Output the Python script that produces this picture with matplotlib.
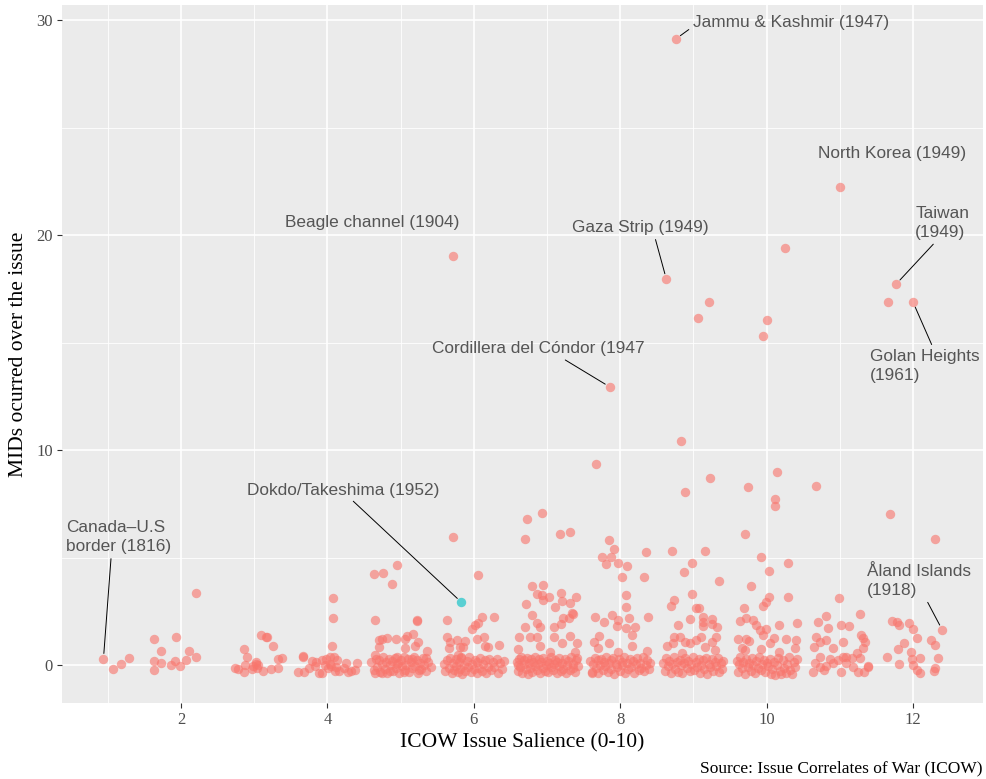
import matplotlib.pyplot as plt
import numpy as np

# territorial claims: (salience, number of MIDs), grouped by salience level
sal_1 = [(1.07, -0.19), (1.18, 0.05), (1.29, 0.33)]
sal_2 = [(1.63, 1.22), (1.93, 1.30), (1.72, 0.65), (2.11, 0.65), (1.63, 0.19), (1.73, 0.11),
         (1.92, 0.19), (2.07, 0.22), (2.20, 0.37), (1.86, 0.00), (1.99, -0.03), (1.63, -0.23),
         (2.20, 3.33)]
sal_3 = [(3.09, 1.38), (3.17, 1.29), (3.16, 1.30), (3.26, 0.88), (2.86, 0.74), (2.90, 0.39),
         (3.32, 0.29), (3.38, 0.33), (3.03, 0.14), (3.05, 0.00), (2.88, 0.02), (2.74, -0.16),
         (2.78, -0.17), (2.86, -0.33), (2.97, -0.17), (3.04, -0.14), (3.12, -0.29), (3.23, -0.20),
         (3.33, -0.16), (2.99, -0.05), (3.02, 0.06)]
sal_4 = [(4.08, 3.12), (4.07, 2.20), (4.06, 0.88), (3.66, 0.39), (3.67, 0.40), (3.79, 0.20),
         (3.85, 0.14), (3.92, 0.23), (3.98, 0.26), (4.04, 0.36), (4.09, 0.39), (4.13, 0.23),
         (4.25, 0.08), (4.40, 0.11), (3.60, -0.31), (3.68, -0.34), (3.75, -0.16), (3.83, -0.05),
         (3.88, -0.36), (3.93, -0.36), (4.01, -0.16), (4.05, -0.05), (4.10, -0.28), (4.16, -0.26),
         (4.22, -0.16), (4.28, -0.33), (4.32, -0.26), (4.38, -0.23), (3.97, 0.00), (4.03, 0.05),
         (4.12, -0.10)]
sal_5 = [(4.64, 4.22), (4.76, 4.29), (4.95, 4.65), (4.88, 3.75), (4.65, 2.08), (5.22, 2.08),
         (5.23, 2.05), (4.71, 1.16), (4.75, 1.19), (4.82, 1.27), (4.94, 1.22), (5.09, 1.35),
         (5.17, 1.43), (5.06, 1.21), (4.70, 0.85), (5.06, 0.78), (5.20, 0.88), (5.24, 1.09),
         (5.36, 0.67), (4.65, 0.47), (4.95, 0.36),
         (4.60, 0.12), (4.63, -0.25), (4.66, 0.30), (4.68, -0.08), (4.70, 0.21), (4.72, -0.33),
         (4.74, 0.05), (4.76, 0.36), (4.78, -0.18), (4.80, 0.14), (4.82, -0.38), (4.84, 0.27),
         (4.86, -0.02), (4.88, 0.18), (4.90, -0.28), (4.92, 0.33), (4.94, -0.12), (4.96, 0.08),
         (4.98, -0.35), (5.00, 0.24), (5.02, -0.06), (5.04, 0.38), (5.06, -0.22), (5.08, 0.02),
         (5.10, 0.29), (5.12, -0.31), (5.14, 0.16), (5.16, -0.14), (5.18, 0.35), (5.20, -0.04),
         (5.22, 0.22), (5.24, -0.37), (5.26, 0.10), (5.28, -0.20), (5.30, 0.31), (5.32, 0.00),
         (5.35, -0.26), (5.38, 0.15), (5.41, -0.10), (4.65, -0.38), (4.75, -0.36), (4.85, -0.30),
         (4.95, 0.04), (5.05, -0.34), (5.15, 0.28), (5.25, -0.24), (5.34, 0.34)]
sal_6 = [(5.72, 5.95), (6.06, 4.19), (5.63, 2.08), (5.64, 1.30), (5.77, 1.16), (5.88, 1.13),
         (5.67, 1.08), (5.66, 0.78), (5.81, 0.82), (5.85, 0.82), (5.97, 1.66), (6.02, 1.86),
         (6.06, 1.97), (6.11, 2.22), (6.28, 2.22), (6.04, 1.22), (6.14, 1.32), (6.35, 0.91),
         (6.15, 0.88), (6.20, 0.82), (5.83, 0.36), (5.78, 0.48),
         (5.59, 0.05), (5.61, -0.30), (5.63, 0.22), (5.66, -0.12), (5.68, 0.34), (5.70, -0.38),
         (5.71, 0.10), (5.73, -0.22), (5.75, 0.28), (5.76, -0.05), (5.78, -0.34), (5.80, 0.15),
         (5.81, -0.18), (5.83, 0.31), (5.84, -0.40), (5.86, 0.02), (5.88, -0.27), (5.90, 0.19),
         (5.92, -0.09), (5.94, 0.36), (5.96, -0.33), (5.98, 0.07), (6.00, -0.20), (6.02, 0.25),
         (6.04, -0.38), (6.05, 0.12), (6.07, -0.15), (6.09, 0.33), (6.11, -0.29), (6.13, 0.04),
         (6.15, 0.21), (6.17, -0.36), (6.19, -0.07), (6.21, 0.30), (6.23, -0.24), (6.26, 0.14),
         (6.28, -0.11), (6.31, 0.26), (6.33, -0.35), (6.36, 0.08), (6.39, -0.18), (6.41, 0.19)]
sal_7 = [(6.72, 6.81), (6.93, 7.05), (6.70, 5.85), (7.18, 6.11), (7.32, 6.20),
         (6.79, 3.67), (6.95, 3.72), (6.86, 3.30), (6.93, 3.26), (6.94, 3.02), (7.03, 3.15),
         (7.19, 3.36), (7.21, 2.99), (7.11, 2.71), (7.40, 3.18), (7.32, 2.90), (6.71, 2.84),
         (6.79, 2.34), (7.35, 2.37), (7.22, 2.17), (6.86, 1.97), (6.90, 1.75), (6.70, 1.75),
         (7.10, 1.78), (7.19, 1.91), (7.30, 2.17), (7.34, 2.43), (7.10, 1.32), (7.32, 1.35),
         (6.62, 1.29), (6.77, 1.32), (6.86, 1.32), (6.90, 0.88), (7.41, 1.04), (7.20, 1.04),
         (7.04, 0.62), (7.38, 0.62), (6.61, 0.73),
         (6.59, 0.12), (6.60, -0.28), (6.62, 0.30), (6.63, -0.08), (6.65, 0.38), (6.66, -0.36),
         (6.68, 0.04), (6.69, 0.22), (6.71, -0.19), (6.72, 0.33), (6.74, -0.40), (6.75, 0.09),
         (6.77, -0.12), (6.78, 0.27), (6.80, -0.31), (6.81, 0.16), (6.83, -0.03), (6.84, 0.36),
         (6.86, -0.24), (6.87, 0.06), (6.89, 0.29), (6.90, -0.37), (6.92, 0.13), (6.94, -0.15),
         (6.95, 0.34), (6.97, -0.27), (6.98, 0.01), (7.00, 0.20), (7.01, -0.34), (7.03, 0.10),
         (7.05, -0.09), (7.06, 0.37), (7.08, -0.22), (7.09, 0.03), (7.11, 0.25), (7.13, -0.39),
         (7.14, 0.15), (7.16, -0.06), (7.17, 0.32), (7.19, -0.30), (7.21, 0.08), (7.22, -0.17),
         (7.24, 0.28), (7.26, -0.35), (7.27, 0.00), (7.29, 0.19), (7.31, -0.25), (7.33, 0.35),
         (7.35, -0.12), (7.36, 0.07), (7.38, -0.33), (7.40, 0.23), (7.42, -0.04), (6.61, -0.02),
         (7.41, 0.31)]
sal_8 = [(7.67, 9.35),
         (7.84, 5.81), (7.92, 5.40), (7.75, 5.04), (7.81, 4.70), (7.88, 5.01), (7.97, 4.73),
         (8.09, 4.62), (8.03, 4.08), (8.35, 5.26), (8.33, 4.11), (8.08, 3.26), (8.08, 2.71),
         (8.38, 2.25), (7.66, 2.25), (7.78, 2.01), (7.89, 2.33), (7.97, 2.09), (8.12, 2.17),
         (7.95, 1.81), (8.08, 1.74), (8.20, 1.78), (8.16, 1.40), (7.71, 1.35), (7.64, 1.09),
         (7.84, 1.01), (8.16, 0.88), (8.36, 0.67), (7.70, 0.77), (7.97, 0.62),
         (7.59, 0.18), (7.61, -0.31), (7.63, 0.06), (7.65, 0.34), (7.67, -0.15), (7.69, 0.24),
         (7.70, -0.37), (7.72, 0.01), (7.74, 0.29), (7.76, -0.22), (7.78, 0.13), (7.79, -0.05),
         (7.81, 0.37), (7.83, -0.33), (7.85, 0.08), (7.87, 0.21), (7.88, -0.18), (7.90, 0.31),
         (7.92, -0.40), (7.94, 0.03), (7.96, -0.11), (7.98, 0.26), (8.00, -0.28), (8.02, 0.14),
         (8.03, -0.02), (8.05, 0.35), (8.07, -0.35), (8.09, 0.10), (8.11, -0.20), (8.13, 0.28),
         (8.15, -0.08), (8.17, 0.18), (8.19, -0.38), (8.21, 0.05), (8.23, 0.33), (8.25, -0.25),
         (8.27, 0.11), (8.29, -0.13), (8.31, 0.38), (8.33, -0.30), (8.35, 0.02), (8.37, 0.22),
         (8.39, -0.17), (8.41, 0.09), (7.62, -0.38)]
sal_9 = [(9.21, 16.88), (9.06, 16.14), (8.83, 10.42), (8.89, 8.05), (9.23, 8.70),
         (8.71, 5.30), (9.16, 5.30), (8.87, 4.33), (8.98, 4.73), (9.35, 3.92), (8.98, 3.30),
         (8.74, 3.02), (8.70, 2.74), (8.79, 1.86), (9.04, 2.64), (9.07, 2.64), (8.96, 2.12),
         (9.13, 2.25), (9.13, 2.01), (9.25, 2.12), (9.25, 1.91), (9.32, 1.75), (9.13, 1.81),
         (9.31, 1.32), (8.64, 0.88), (8.74, 1.32), (8.82, 1.32), (8.89, 1.09), (8.96, 1.01),
         (9.04, 1.16), (9.10, 1.32), (9.16, 0.85), (9.26, 1.09), (9.29, 0.70), (8.84, 0.54),
         (8.72, 1.01),
         (8.59, 0.10), (8.61, -0.26), (8.63, 0.31), (8.65, -0.06), (8.67, 0.20), (8.69, -0.36),
         (8.71, 0.03), (8.73, 0.36), (8.75, -0.19), (8.77, 0.14), (8.79, -0.31), (8.81, 0.25),
         (8.83, -0.02), (8.85, -0.39), (8.87, 0.08), (8.89, 0.33), (8.91, -0.14), (8.93, 0.19),
         (8.95, -0.29), (8.97, 0.04), (8.99, 0.37), (9.01, -0.22), (9.03, 0.12), (9.05, -0.08),
         (9.07, 0.28), (9.09, -0.35), (9.11, 0.00), (9.13, 0.22), (9.15, -0.17), (9.17, 0.34),
         (9.19, -0.40), (9.21, 0.06), (9.23, -0.10), (9.25, 0.27), (9.27, -0.27), (9.29, 0.15),
         (9.31, -0.03), (9.33, 0.32), (9.35, -0.33), (9.37, 0.09), (9.39, -0.20), (9.41, 0.18)]
sal_10 = [(10.25, 19.40), (10.01, 16.05), (9.95, 15.30), (9.74, 8.28), (10.14, 8.96),
          (10.12, 7.72), (10.12, 7.38), (9.70, 6.11),
          (9.93, 5.04), (10.29, 4.74), (10.03, 4.36), (9.79, 3.67), (10.03, 3.15), (10.29, 3.15),
          (9.99, 2.95), (9.95, 2.76), (9.69, 2.64), (9.64, 2.06), (9.72, 2.17), (9.82, 2.09),
          (9.86, 1.86), (9.91, 1.63), (9.99, 1.66), (10.17, 1.86), (10.41, 1.95), (9.61, 1.19),
          (9.72, 1.19), (9.76, 1.13), (9.66, 0.78), (9.71, 0.70), (9.95, 1.38), (10.05, 1.01),
          (10.10, 1.24), (10.17, 0.62), (10.27, 1.19), (10.39, 0.78), (10.40, 1.16), (9.92, 0.73),
          (9.59, 0.20), (9.61, -0.33), (9.62, 0.04), (9.64, 0.35), (9.66, -0.16), (9.68, 0.13),
          (9.70, -0.40), (9.72, 0.27), (9.74, -0.07), (9.76, 0.09), (9.78, -0.28), (9.80, 0.32),
          (9.82, -0.01), (9.84, -0.37), (9.86, 0.18), (9.88, -0.12), (9.90, 0.38), (9.92, -0.24),
          (9.94, 0.06), (9.96, 0.24), (9.98, -0.34), (10.00, 0.11), (10.02, -0.05), (10.04, 0.30),
          (10.06, -0.41), (10.08, -0.20), (10.10, 0.16), (10.12, -0.45), (10.14, 0.02),
          (10.16, 0.34), (10.18, -0.30), (10.20, -0.44), (10.22, 0.21), (10.24, -0.14),
          (10.26, -0.38), (10.28, 0.07), (10.30, 0.36), (10.32, -0.25), (10.34, -0.42),
          (10.37, 0.14), (10.39, -0.09), (10.41, 0.28)]
sal_11 = [(10.68, 8.34),
          (10.70, 1.99), (10.81, 2.29), (10.84, 1.71), (10.99, 3.10), (11.01, 1.86), (11.12, 1.83),
          (11.28, 2.36), (11.29, 1.40), (11.32, 1.24), (11.35, 1.09), (11.32, 0.78), (10.68, 1.32),
          (10.73, 1.09), (10.81, 1.16), (10.90, 0.78), (11.05, 1.09), (10.65, 0.85), (10.73, 0.36),
          (10.86, 0.26), (10.97, 0.23), (11.04, 0.39), (11.09, 0.36), (11.17, 0.31), (11.23, 0.57),
          (11.28, 0.31), (10.66, 0.08), (10.73, -0.08), (10.81, -0.05), (10.90, 0.08),
          (11.01, -0.31), (11.18, -0.08), (11.25, -0.31), (11.33, -0.31), (11.38, -0.05),
          (10.64, -0.31), (10.78, -0.23), (11.09, 0.08), (11.39, -0.11)]
sal_12 = [(11.66, 16.88), (11.69, 7.04), (12.30, 5.86),
          (11.71, 2.05), (11.78, 2.01), (11.81, 1.86), (11.94, 1.94), (12.00, 1.67), (12.06, 1.27),
          (11.87, 1.01), (11.79, 0.73), (11.97, 0.62), (11.64, 0.36), (11.81, 0.05), (11.98, 0.26),
          (12.10, 0.31), (12.00, 0.00), (12.05, -0.23), (12.09, -0.36), (12.25, 1.16),
          (12.30, 0.93), (12.34, 0.33), (12.30, -0.16), (12.28, -0.29)]

# named cases
case_names = ['Jammu & Kashmir (1947)', 'North Korea (1949)', 'Taiwan\n(1949)',
              'Golan Heights\n(1961)', 'Gaza Strip (1949)', 'Beagle channel (1904)',
              'Cordillera del Cóndor (1947', 'Dokdo/Takeshima (1952)',
              'Canada–U.S\nborder (1816)', 'Åland Islands\n(1918)']
case_x = [8.76, 11.00, 11.77, 12.00, 8.63, 5.72, 7.86, 5.83, 0.94, 12.40]
case_y = [29.12, 22.23, 17.72, 16.88, 17.95, 19.02, 12.93, 2.92, 0.28, 1.63]
highlight = ['Dokdo/Takeshima (1952)']

pts = np.array(sal_1 + sal_2 + sal_3 + sal_4 + sal_5 + sal_6 + sal_7 + sal_8 +
               sal_9 + sal_10 + sal_11 + sal_12)
case_x = np.array(case_x)
case_y = np.array(case_y)
is_hl = np.array([n in highlight for n in case_names])

red = '#F8766D'
teal = '#00BFC4'

fig = plt.figure(figsize=(9.87, 7.79), dpi=100)
ax = fig.add_axes([62 / 987, 76 / 779, 921 / 987, 698 / 779])
ax.set_facecolor('#EBEBEB')

ax.scatter(pts[:, 0], pts[:, 1], s=46, color=red, alpha=0.62, linewidths=0, zorder=3)
ax.scatter(case_x[~is_hl], case_y[~is_hl], s=46, color=red, alpha=0.62, linewidths=0, zorder=3)
ax.scatter(case_x[is_hl], case_y[is_hl], s=46, color=teal, alpha=0.62, linewidths=0, zorder=3)

ax.set_xlim(0.374, 12.956)
ax.set_ylim(-1.767, 30.70)
ax.set_xticks([2, 4, 6, 8, 10, 12])
ax.set_xticks([1, 3, 5, 7, 9, 11], minor=True)
ax.set_yticks([0, 10, 20, 30])
ax.set_yticks([5, 15, 25], minor=True)
ax.grid(which='major', color='white', lw=1.2)
ax.grid(which='minor', color='white', lw=0.6)
ax.set_axisbelow(True)
for s in ax.spines.values():
    s.set_visible(False)
ax.tick_params(which='major', length=3.5, width=0.8, color='#333333', labelcolor='#4D4D4D',
               labelsize=12, pad=3)
ax.tick_params(which='minor', length=0)
for lab in ax.get_xticklabels() + ax.get_yticklabels():
    lab.set_fontfamily('Liberation Serif')

ax.set_xlabel('ICOW Issue Salience (0-10)', fontsize=15.5, family='Liberation Serif', labelpad=4)
ax.set_ylabel('MIDs ocurred over the issue', fontsize=15.5, family='Liberation Serif', labelpad=6)
fig.text(983 / 987, 1 - 768 / 779, 'Source: Issue Correlates of War (ICOW)', ha='right',
         va='center', fontsize=12.5, family='Liberation Serif')

# label placement: (text x, text y, ha, relpos of leader or None)
label_pos = {
    'Jammu & Kashmir (1947)': (8.99, 29.90, 'left', (0.0, 0.2)),
    'North Korea (1949)': (11.71, 23.77, 'center', None),
    'Taiwan\n(1949)': (12.03, 20.56, 'left', (0.4, 0.0)),
    'Golan Heights\n(1961)': (11.41, 13.91, 'left', (0.58, 1.0)),
    'Gaza Strip (1949)': (8.28, 20.33, 'center', (0.6, 0.0)),
    'Beagle channel (1904)': (4.61, 20.60, 'center', None),
    'Cordillera del Cóndor (1947': (6.88, 14.70, 'center', (0.6, 0.0)),
    'Dokdo/Takeshima (1952)': (4.22, 8.14, 'center', (0.53, 0.0)),
    'Canada–U.S\nborder (1816)': (0.43, 5.95, 'left', (0.43, 0.0)),
    'Åland Islands\n(1918)': (11.37, 3.91, 'left', (0.52, 0.25)),
}
for name, px, py in zip(case_names, case_x, case_y):
    tx, ty, ha, rel = label_pos[name]
    arrow = None
    if rel is not None:
        arrow = dict(arrowstyle='-', color='black', lw=0.7, relpos=rel, shrinkA=1, shrinkB=4)
    ax.annotate(name, xy=(px, py), xytext=(tx, ty), textcoords='data', ha=ha, va='center',
                fontsize=12.4, family='Liberation Sans', color='#555555', linespacing=1.4,
                arrowprops=arrow, zorder=4)

fig.savefig('out.png', dpi=100)
